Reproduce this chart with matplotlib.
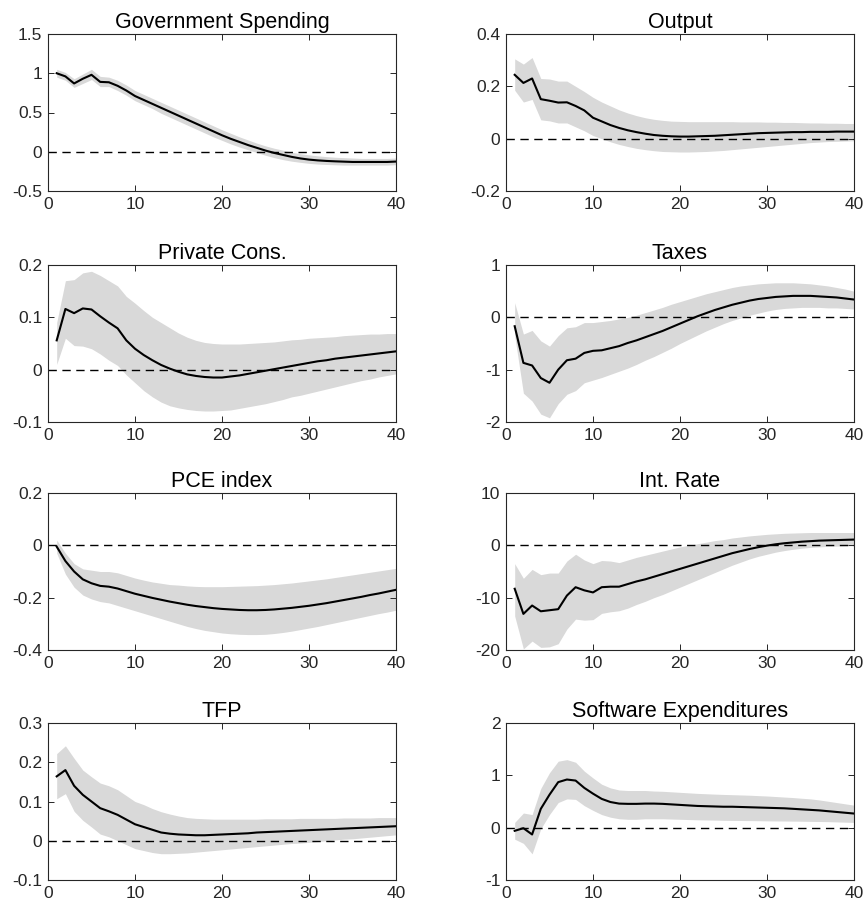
import numpy as np
import matplotlib.pyplot as plt
from matplotlib.ticker import FuncFormatter

plt.rcParams['font.family'] = ['Liberation Sans', 'DejaVu Sans']
plt.rcParams['axes.unicode_minus'] = False

horizon = np.arange(1, 41)

titles = [
    "Government Spending", "Output",
    "Private Cons.", "Taxes",
    "PCE index", "Int. Rate",
    "TFP", "Software Expenditures",
]

# median responses
gov_mid = [1.00, 0.96, 0.87, 0.93, 0.98, 0.89, 0.885, 0.84, 0.78, 0.71,
           0.66, 0.61, 0.56, 0.51, 0.46, 0.41, 0.36, 0.31, 0.26, 0.21,
           0.165, 0.125, 0.085, 0.05, 0.015, -0.015, -0.04, -0.065, -0.085, -0.1,
           -0.11, -0.117, -0.122, -0.126, -0.13, -0.13, -0.13, -0.13, -0.13, -0.125]
gov_lo = [0.95, 0.91, 0.82, 0.87, 0.92, 0.83, 0.83, 0.78, 0.72, 0.65,
          0.60, 0.55, 0.49, 0.44, 0.39, 0.34, 0.29, 0.24, 0.19, 0.145,
          0.10, 0.06, 0.025, -0.01, -0.045, -0.075, -0.1, -0.12, -0.135, -0.148,
          -0.157, -0.162, -0.166, -0.17, -0.17, -0.17, -0.17, -0.17, -0.17, -0.165]
gov_hi = [1.05, 1.01, 0.93, 0.99, 1.05, 0.96, 0.95, 0.91, 0.85, 0.78,
          0.73, 0.68, 0.63, 0.58, 0.53, 0.48, 0.43, 0.38, 0.33, 0.28,
          0.235, 0.19, 0.15, 0.11, 0.075, 0.045, 0.02, -0.005, -0.025, -0.04,
          -0.052, -0.062, -0.07, -0.075, -0.08, -0.085, -0.085, -0.085, -0.085, -0.08]

out_mid = [0.244, 0.213, 0.23, 0.151, 0.145, 0.138, 0.139, 0.125, 0.108, 0.08,
           0.066, 0.052, 0.041, 0.032, 0.025, 0.019, 0.014, 0.011, 0.009, 0.008,
           0.008, 0.009, 0.010, 0.011, 0.013, 0.015, 0.017, 0.019, 0.021, 0.022,
           0.023, 0.024, 0.025, 0.025, 0.026, 0.026, 0.026, 0.027, 0.027, 0.027]
out_lo = [0.185, 0.14, 0.15, 0.072, 0.068, 0.06, 0.06, 0.045, 0.03, 0.012,
          0.0, -0.012, -0.022, -0.03, -0.037, -0.042, -0.046, -0.049, -0.05, -0.051,
          -0.051, -0.05, -0.049, -0.047, -0.045, -0.042, -0.039, -0.036, -0.033, -0.03,
          -0.027, -0.024, -0.021, -0.018, -0.015, -0.013, -0.011, -0.01, -0.009, -0.008]
out_hi = [0.305, 0.285, 0.31, 0.23, 0.228, 0.22, 0.22, 0.20, 0.18, 0.158,
          0.14, 0.125, 0.11, 0.098, 0.088, 0.08, 0.074, 0.07, 0.067, 0.066,
          0.065, 0.065, 0.065, 0.065, 0.065, 0.065, 0.064, 0.064, 0.064, 0.063,
          0.063, 0.062, 0.062, 0.061, 0.06, 0.06, 0.059, 0.059, 0.058, 0.058]

cons_mid = [0.056, 0.116, 0.108, 0.117, 0.115, 0.102, 0.09, 0.079, 0.056, 0.04,
            0.028, 0.018, 0.009, 0.002, -0.004, -0.009, -0.012, -0.014, -0.015, -0.015,
            -0.013, -0.011, -0.008, -0.005, -0.002, 0.001, 0.004, 0.007, 0.010, 0.013,
            0.016, 0.018, 0.021, 0.023, 0.025, 0.027, 0.029, 0.031, 0.033, 0.035]
cons_lo = [0.01, 0.06, 0.046, 0.045, 0.04, 0.03, 0.018, 0.008, -0.01, -0.025,
           -0.04, -0.052, -0.062, -0.069, -0.073, -0.076, -0.078, -0.079, -0.079, -0.078,
           -0.077, -0.074, -0.071, -0.068, -0.065, -0.061, -0.057, -0.052, -0.049, -0.045,
           -0.041, -0.037, -0.033, -0.029, -0.025, -0.021, -0.018, -0.014, -0.011, -0.008]
cons_hi = [0.09, 0.17, 0.172, 0.185, 0.188, 0.18, 0.17, 0.16, 0.14, 0.127,
           0.113, 0.1, 0.09, 0.08, 0.07, 0.062, 0.056, 0.052, 0.05, 0.049,
           0.049, 0.049, 0.05, 0.051, 0.052, 0.053, 0.055, 0.057, 0.058, 0.06,
           0.061, 0.062, 0.063, 0.065, 0.066, 0.067, 0.068, 0.068, 0.069, 0.069]

tax_mid = [-0.17, -0.87, -0.92, -1.16, -1.25, -1.0, -0.82, -0.79, -0.68, -0.64,
           -0.63, -0.59, -0.55, -0.49, -0.44, -0.38, -0.32, -0.26, -0.19, -0.12,
           -0.05, 0.02, 0.08, 0.14, 0.19, 0.24, 0.28, 0.32, 0.35, 0.37,
           0.39, 0.40, 0.41, 0.41, 0.41, 0.40, 0.39, 0.38, 0.36, 0.34]
tax_lo = [-0.35, -1.45, -1.6, -1.85, -1.92, -1.65, -1.47, -1.4, -1.25, -1.2,
          -1.15, -1.09, -1.03, -0.97, -0.9, -0.82, -0.75, -0.67, -0.59, -0.5,
          -0.42, -0.34, -0.26, -0.19, -0.12, -0.06, -0.01, 0.04, 0.08, 0.12,
          0.15, 0.17, 0.18, 0.19, 0.19, 0.19, 0.18, 0.18, 0.17, 0.16]
tax_hi = [0.28, -0.32, -0.25, -0.45, -0.55, -0.35, -0.2, -0.18, -0.1, -0.1,
          -0.08, -0.06, -0.03, 0.0, 0.04, 0.09, 0.14, 0.19, 0.25, 0.3,
          0.35, 0.4, 0.45, 0.49, 0.53, 0.57, 0.6, 0.62, 0.64, 0.65,
          0.66, 0.66, 0.66, 0.65, 0.64, 0.62, 0.6, 0.57, 0.54, 0.5]

pce_mid = [-0.005, -0.06, -0.10, -0.13, -0.145, -0.155, -0.158, -0.165, -0.175, -0.185,
           -0.193, -0.201, -0.208, -0.215, -0.221, -0.227, -0.232, -0.236, -0.240, -0.243,
           -0.245, -0.247, -0.248, -0.248, -0.247, -0.245, -0.242, -0.239, -0.235, -0.231,
           -0.226, -0.221, -0.215, -0.209, -0.203, -0.197, -0.190, -0.184, -0.177, -0.17]
pce_lo = [-0.03, -0.11, -0.16, -0.19, -0.205, -0.215, -0.22, -0.23, -0.24, -0.25,
          -0.26, -0.27, -0.28, -0.29, -0.3, -0.31, -0.318, -0.325, -0.33, -0.335,
          -0.338, -0.34, -0.341, -0.341, -0.34, -0.337, -0.333, -0.328, -0.322, -0.316,
          -0.31, -0.303, -0.296, -0.289, -0.282, -0.275, -0.268, -0.261, -0.255, -0.248]
pce_hi = [0.02, -0.03, -0.07, -0.09, -0.095, -0.1, -0.1, -0.105, -0.115, -0.125,
          -0.133, -0.14, -0.145, -0.15, -0.152, -0.155, -0.157, -0.158, -0.158, -0.158,
          -0.157, -0.156, -0.155, -0.154, -0.152, -0.15, -0.147, -0.144, -0.14, -0.136,
          -0.132, -0.128, -0.123, -0.118, -0.113, -0.108, -0.103, -0.098, -0.093, -0.088]

rate_mid = [-8.3, -13.1, -11.5, -12.6, -12.4, -12.2, -9.6, -8.0, -8.6, -9.0,
            -8.0, -7.9, -7.9, -7.4, -6.9, -6.5, -6.0, -5.5, -5.0, -4.5,
            -4.0, -3.5, -3.0, -2.5, -2.0, -1.5, -1.1, -0.7, -0.35, -0.05,
            0.2, 0.4, 0.55, 0.7, 0.8, 0.9, 0.95, 1.0, 1.05, 1.1]
rate_lo = [-13.5, -19.8, -18.3, -19.5, -19.4, -18.8, -16.0, -14.1, -14.3, -14.2,
           -13.0, -12.7, -12.5, -12.0, -11.3, -10.7, -10.0, -9.4, -8.7, -8.0,
           -7.3, -6.6, -5.9, -5.2, -4.5, -3.8, -3.2, -2.6, -2.1, -1.7,
           -1.3, -1.0, -0.75, -0.55, -0.4, -0.3, -0.2, -0.15, -0.1, -0.1]
rate_hi = [-3.5, -6.3, -4.6, -5.6, -5.3, -5.3, -3.0, -1.7, -2.8, -3.5,
           -2.9, -3.0, -3.3, -2.8, -2.3, -1.9, -1.5, -1.1, -0.7, -0.3,
           0.0, 0.3, 0.6, 0.9, 1.1, 1.4, 1.6, 1.8, 1.95, 2.1,
           2.2, 2.3, 2.35, 2.4, 2.45, 2.45, 2.45, 2.45, 2.45, 2.45]

tfp_mid = [0.164, 0.18, 0.14, 0.117, 0.100, 0.083, 0.075, 0.066, 0.054, 0.042,
           0.035, 0.028, 0.021, 0.018, 0.016, 0.015, 0.014, 0.014, 0.015, 0.016,
           0.017, 0.018, 0.019, 0.021, 0.022, 0.023, 0.024, 0.025, 0.026, 0.027,
           0.028, 0.029, 0.030, 0.031, 0.032, 0.033, 0.034, 0.035, 0.036, 0.037]
tfp_lo = [0.107, 0.12, 0.075, 0.052, 0.035, 0.017, 0.01, 0.0, -0.01, -0.02,
          -0.025, -0.03, -0.033, -0.033, -0.032, -0.031, -0.029, -0.027, -0.025, -0.023,
          -0.021, -0.019, -0.017, -0.015, -0.013, -0.011, -0.009, -0.007, -0.006, -0.004,
          -0.002, 0.0, 0.002, 0.004, 0.005, 0.007, 0.009, 0.011, 0.013, 0.015]
tfp_hi = [0.222, 0.242, 0.21, 0.18, 0.163, 0.147, 0.14, 0.13, 0.115, 0.1,
          0.092, 0.082, 0.074, 0.068, 0.063, 0.059, 0.057, 0.056, 0.055, 0.055,
          0.055, 0.055, 0.055, 0.055, 0.056, 0.056, 0.056, 0.056, 0.057, 0.057,
          0.057, 0.057, 0.057, 0.058, 0.058, 0.058, 0.058, 0.059, 0.059, 0.059]

soft_mid = [-0.06, -0.01, -0.13, 0.36, 0.63, 0.87, 0.92, 0.90, 0.76, 0.65,
            0.55, 0.49, 0.46, 0.455, 0.455, 0.46, 0.46, 0.455, 0.445, 0.435,
            0.425, 0.415, 0.41, 0.405, 0.40, 0.40, 0.395, 0.39, 0.385, 0.38,
            0.375, 0.37, 0.36, 0.35, 0.34, 0.33, 0.315, 0.30, 0.285, 0.27]
soft_lo = [-0.22, -0.3, -0.5, -0.02, 0.25, 0.48, 0.55, 0.54, 0.42, 0.33,
           0.25, 0.2, 0.17, 0.16, 0.16, 0.17, 0.17, 0.17, 0.165, 0.16,
           0.155, 0.15, 0.147, 0.144, 0.14, 0.138, 0.137, 0.135, 0.133, 0.13,
           0.128, 0.127, 0.125, 0.123, 0.12, 0.118, 0.115, 0.11, 0.105, 0.1]
soft_hi = [0.1, 0.28, 0.25, 0.75, 1.05, 1.27, 1.3, 1.25, 1.08, 0.95,
           0.83, 0.76, 0.72, 0.71, 0.71, 0.71, 0.70, 0.695, 0.685, 0.675,
           0.665, 0.655, 0.648, 0.641, 0.635, 0.63, 0.625, 0.62, 0.612, 0.605,
           0.595, 0.585, 0.575, 0.562, 0.55, 0.53, 0.505, 0.48, 0.455, 0.43]

yticks = [
    [-0.5, 0, 0.5, 1, 1.5], [-0.2, 0, 0.2, 0.4],
    [-0.1, 0, 0.1, 0.2], [-2, -1, 0, 1],
    [-0.4, -0.2, 0, 0.2], [-20, -10, 0, 10],
    [-0.1, 0, 0.1, 0.2, 0.3], [-1, 0, 1, 2],
]

panels = [
    (gov_mid, gov_lo, gov_hi), (out_mid, out_lo, out_hi),
    (cons_mid, cons_lo, cons_hi), (tax_mid, tax_lo, tax_hi),
    (pce_mid, pce_lo, pce_hi), (rate_mid, rate_lo, rate_hi),
    (tfp_mid, tfp_lo, tfp_hi), (soft_mid, soft_lo, soft_hi),
]

W, H = 868, 909
fig = plt.figure(figsize=(W / 100, H / 100), dpi=100)

col_left = [48, 506]
row_top = [34, 265, 493, 723]
ax_w, ax_h = 348, 157

edge = '#262626'
for i, (title, (mid, lo, hi), yt) in enumerate(zip(titles, panels, yticks)):
    r, c = divmod(i, 2)
    left = col_left[c] / W
    bottom = 1 - (row_top[r] + ax_h) / H
    ax = fig.add_axes([left, bottom, ax_w / W, ax_h / H])
    ax.fill_between(horizon, lo, hi, color='#d9d9d9', linewidth=0)
    ax.axhline(0, color='black', linestyle=(0, (6, 4)), linewidth=1.0)
    ax.plot(horizon, mid, color='black', linewidth=1.5)
    ax.set_xlim(0, 40)
    ax.set_ylim(yt[0], yt[-1])
    ax.set_xticks([0, 10, 20, 30, 40])
    ax.set_yticks(yt)
    ax.yaxis.set_major_formatter(FuncFormatter(lambda v, p: f"{v:g}"))
    ax.set_title(title, fontsize=15.5, pad=4)
    ax.tick_params(direction='in', top=True, right=True, length=4,
                   width=0.7, color=edge, labelsize=12.5, labelcolor=edge, pad=4)
    for s in ax.spines.values():
        s.set_color(edge)
        s.set_linewidth(0.8)

fig.savefig('out.png', dpi=100)
